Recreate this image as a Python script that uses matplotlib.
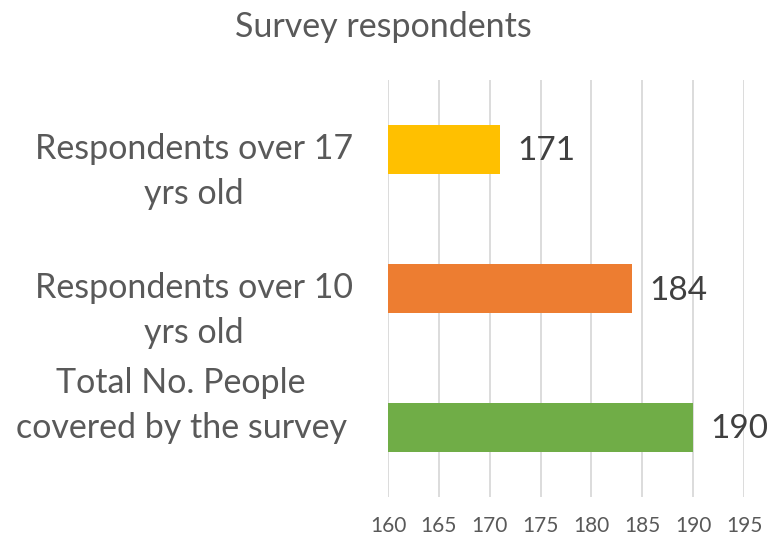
import matplotlib
matplotlib.use("Agg")
import matplotlib.pyplot as plt
from matplotlib.transforms import blended_transform_factory

categories = ["Respondents over 17\nyrs old",
              "Respondents over 10\nyrs old",
              "Total No. People\ncovered by the survey"]
values = [171, 184, 190]
colors = ["#FFC000", "#ED7D31", "#70AD47"]
xticks = [160, 165, 170, 175, 180, 185, 190, 195]
title = "Survey respondents"

plt.rcParams['font.family'] = ['Lato', 'DejaVu Sans']
txt = "#595959"

fig = plt.figure(figsize=(7.67, 5.39), dpi=100)
ax = fig.add_axes([388/767, 1-497/539, 356/767, 417/539])

ypos = list(range(len(categories)))
base = xticks[0]
ax.barh(ypos, [v - base for v in values], left=base, height=0.35,
        color=colors, zorder=3)
ax.set_xlim(xticks[0], xticks[-1])
ax.set_ylim(len(categories) - 0.5, -0.5)
ax.set_xticks(xticks)
ax.set_xticklabels([str(t) for t in xticks], fontsize=15, color=txt)
ax.tick_params(axis='x', length=0, pad=14)
ax.set_yticks([])
ax.grid(axis='x', color="#D9D9D9", linewidth=1.3, zorder=0)
for s in ax.spines.values():
    s.set_visible(False)

for y, v in zip(ypos, values):
    ax.annotate(str(v), (v, y), xytext=(17, -2), textcoords='offset pixels',
                va='center', ha='left', fontsize=24, color="#404040")

trans = blended_transform_factory(fig.transFigure, ax.transData)
label_offsets = [0.155, 0.16, -0.16]
label_x = [194, 194, 181]
for y, lab, off, lx in zip(ypos, categories, label_offsets, label_x):
    ax.text(lx/767, y + off, lab, transform=trans, ha='center', va='center',
            multialignment='center', fontsize=24.5, color=txt, linespacing=1.5)

fig.text(0.5, 1 - 27/539, title, ha='center', va='center', fontsize=24.5, color=txt)

fig.savefig("out.png", dpi=100)
